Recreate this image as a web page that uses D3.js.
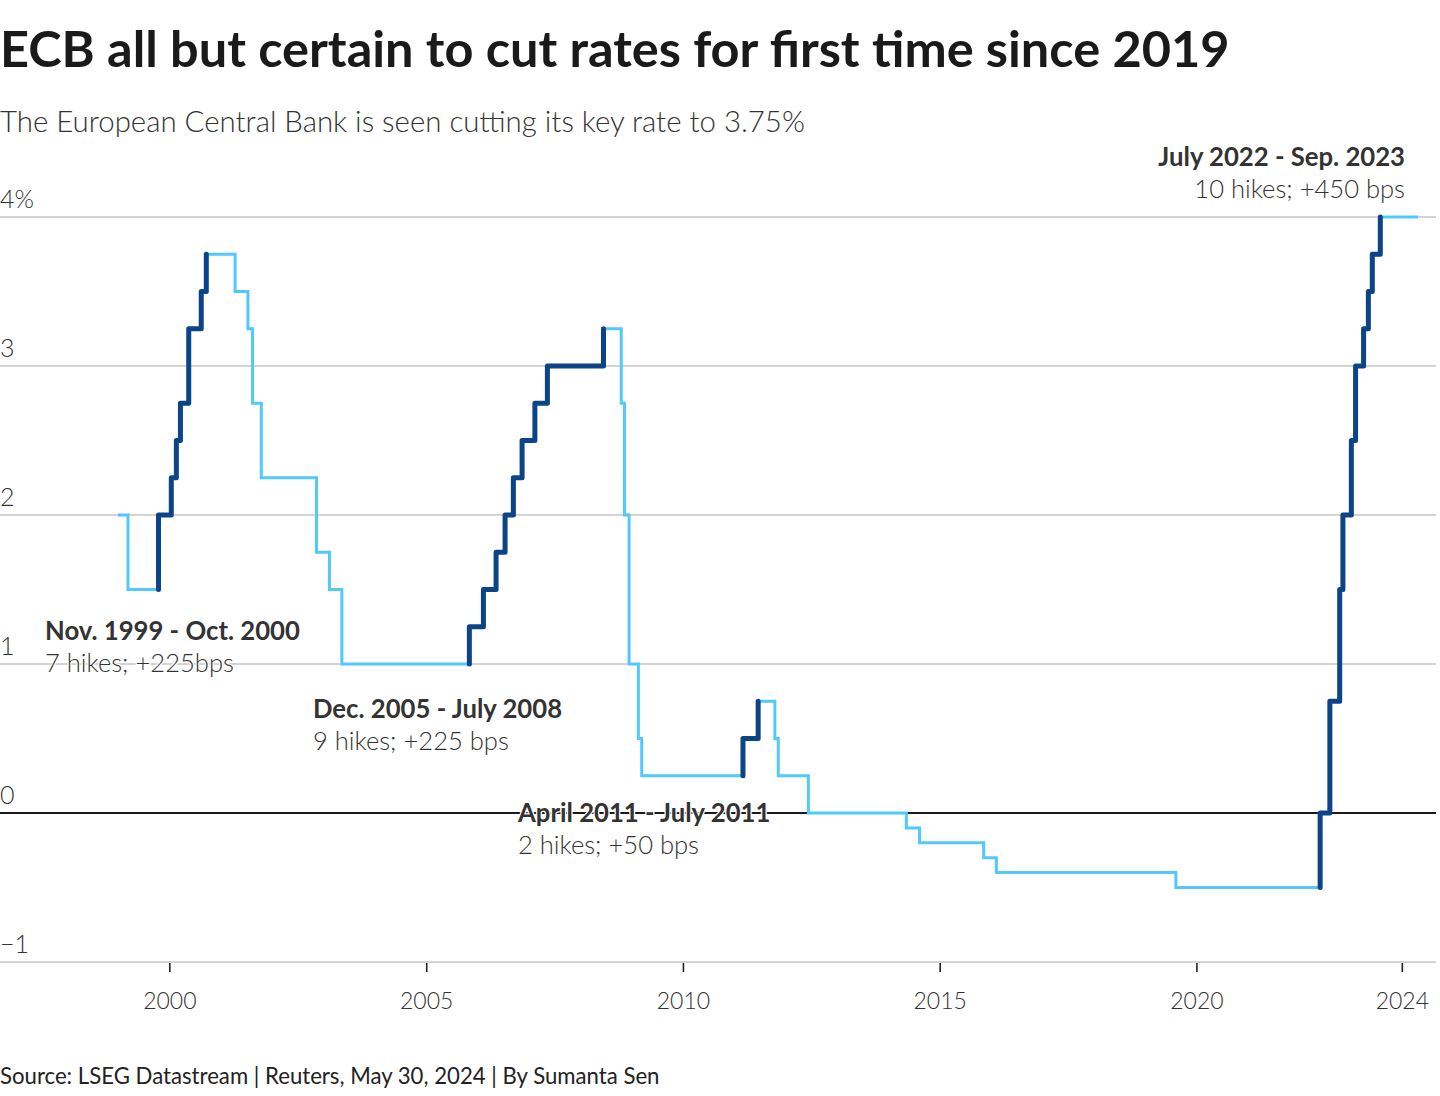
<!DOCTYPE html>
<html>
<head>
<meta charset="utf-8">
<script src="https://cdn.jsdelivr.net/npm/d3@7"></script>
<style>
  body { margin: 0; background: #fff; }
  svg text { font-family: "Lato", "Noto Sans", sans-serif; }
</style>
</head>
<body>
<svg id="chart" width="1440" height="1096"></svg>
<script>
// ECB deposit rate, step changes
const stepDates = [
  "1999-01-01", "1999-03-13", "1999-10-16", "2000-01-15", "2000-02-20", "2000-03-20",
  "2000-05-18", "2000-08-15", "2000-09-20", "2001-04-13", "2001-07-13", "2001-08-15",
  "2001-10-16", "2002-11-13", "2003-02-13", "2003-05-12", "2005-11-04", "2006-02-12",
  "2006-05-13", "2006-07-16", "2006-09-13", "2006-11-14", "2007-02-13", "2007-05-13",
  "2008-06-15", "2008-10-19", "2008-11-11", "2008-12-14", "2009-02-18", "2009-03-14",
  "2011-03-04", "2011-06-20", "2011-10-17", "2011-11-10", "2012-06-11", "2014-05-09",
  "2014-08-11", "2015-11-10", "2016-02-08", "2019-08-08", "2022-05-30", "2022-08-07",
  "2022-10-16", "2022-11-08", "2023-01-07", "2023-02-06", "2023-04-04", "2023-05-08",
  "2023-06-05", "2023-08-01", "2024-04-25"
];
const rateValues = [
  2.00, 1.50, 2.00, 2.25, 2.50, 2.75,
  3.25, 3.50, 3.75, 3.50, 3.25, 2.75,
  2.25, 1.75, 1.50, 1.00, 1.25, 1.50,
  1.75, 2.00, 2.25, 2.50, 2.75, 3.00,
  3.25, 2.75, 2.00, 1.00, 0.50, 0.25,
  0.50, 0.75, 0.50, 0.25, 0.00, -0.10,
  -0.20, -0.30, -0.40, -0.50, 0.00, 0.75,
  1.50, 2.00, 2.50, 3.00, 3.25, 3.50,
  3.75, 4.00, 4.00
];

// hiking cycles: first and last hike
const hikeStarts = ["1999-10-16", "2005-11-04", "2011-03-04", "2022-05-30"];
const hikeEnds   = ["2000-09-20", "2008-06-15", "2011-06-20", "2023-08-01"];

const hikeTitles = ["Nov. 1999 - Oct. 2000", "Dec. 2005 - July 2008", "April 2011 - July 2011", "July 2022 - Sep. 2023"];
const hikeNotes  = ["7 hikes; +225bps", "9 hikes; +225 bps", "2 hikes; +50 bps", "10 hikes; +450 bps"];

const yTicks = [-1, 0, 1, 2, 3, 4];
const xTickYears = [2000, 2005, 2010, 2015, 2020, 2024];

const parse = d3.timeParse("%Y-%m-%d");
const data = stepDates.map((d, i) => ({ date: parse(d), value: rateValues[i] }));

const svg = d3.select("#chart");
const plotLeft = 0, plotRight = 1436;

const x = d3.scaleTime()
  .domain(d3.extent(data, d => d.date))
  .range([118, 1418]);
const y = d3.scaleLinear()
  .domain([-1, 4])
  .range([962, 217]);

// fit a text element to a pixel width by scaling its font size
function fit(sel, w) {
  const fs = parseFloat(sel.style("font-size"));
  const len = sel.node().getComputedTextLength();
  const nfs = fs * w / len;
  sel.style("font-size", nfs + "px");
  return nfs;
}

// titles
const title = svg.append("text")
  .attr("x", 0).attr("y", 67)
  .style("font-size", "44px").style("font-weight", 700)
  .attr("fill", "#1a1a1a")
  .text("ECB all but certain to cut rates for first time since 2019");
fit(title, 1230);

const sub = svg.append("text")
  .attr("x", 0).attr("y", 132)
  .style("font-size", "28px").style("font-weight", 300)
  .attr("fill", "#333")
  .text("The European Central Bank is seen cutting its key rate to 3.75%");
fit(sub, 805);

const src = svg.append("text")
  .attr("x", 0).attr("y", 1084)
  .style("font-size", "21px").style("font-weight", 400)
  .attr("fill", "#222")
  .text("Source: LSEG Datastream | Reuters, May 30, 2024 | By Sumanta Sen");
fit(src, 660);

// gridlines
const grid = svg.append("g");
grid.selectAll("line")
  .data(yTicks)
  .join("line")
  .attr("x1", plotLeft).attr("x2", plotRight)
  .attr("y1", d => y(d)).attr("y2", d => y(d))
  .attr("stroke", d => d === 0 ? "#1a1a1a" : "#c4c4c4")
  .attr("stroke-width", d => d === 0 ? 1.8 : 1.5);

grid.selectAll("text")
  .data(yTicks)
  .join("text")
  .attr("x", 0)
  .attr("y", d => y(d) - 9)
  .style("font-size", "25px").style("font-weight", 300)
  .attr("fill", "#333")
  .text(d => d === 4 ? "4%" : (d < 0 ? "\u2212" + Math.abs(d) : d));

// x axis
const xAxis = d3.axisBottom(x)
  .tickValues(xTickYears.map(yr => new Date(yr, 0, 1)))
  .tickFormat(d3.timeFormat("%Y"))
  .tickSize(9)
  .tickPadding(21);

const ax = svg.append("g")
  .attr("transform", `translate(0, ${y(-1) + 1})`)
  .call(xAxis);
ax.select(".domain").remove();
ax.selectAll(".tick line").attr("stroke", "#222").attr("stroke-width", 1.6);
ax.selectAll(".tick text")
  .style("font-family", "Lato, sans-serif")
  .style("font-size", "23px").style("font-weight", 300)
  .attr("fill", "#333");

// lines
const line = d3.line()
  .x(d => x(d.date))
  .y(d => y(d.value))
  .curve(d3.curveStepAfter);

svg.append("path")
  .datum(data)
  .attr("d", line)
  .attr("fill", "none")
  .attr("stroke", "#52c8fc")
  .attr("stroke-width", 3);

const cycles = hikeStarts.map((s, k) => {
  const s0 = parse(s), e0 = parse(hikeEnds[k]);
  const i0 = data.findIndex(d => +d.date === +s0);
  const pts = data.filter(d => d.date >= s0 && d.date <= e0);
  return [{ date: s0, value: data[i0 - 1].value }].concat(pts);
});

svg.append("g")
  .selectAll("path")
  .data(cycles)
  .join("path")
  .attr("d", line)
  .attr("fill", "none")
  .attr("stroke", "#0b4587")
  .attr("stroke-width", 5)
  .attr("stroke-linecap", "round")
  .attr("stroke-linejoin", "round");

// annotations
const annX = [45, 313, 518, 1405];
const annY = [640, 718, 822, 166];
const annAnchor = ["start", "start", "start", "end"];

const ann = svg.append("g");
const boldSize = fit(ann.append("text").style("font-size", "24px").style("font-weight", 700)
  .text(hikeTitles[0]), 255);
const lightSize = fit(ann.append("text").style("font-size", "24px").style("font-weight", 300)
  .text(hikeNotes[0]), 189);
ann.selectAll("text").remove();

hikeTitles.forEach((t, k) => {
  ann.append("text")
    .attr("x", annX[k]).attr("y", annY[k])
    .attr("text-anchor", annAnchor[k])
    .style("font-size", boldSize + "px").style("font-weight", 700)
    .attr("fill", "#333")
    .attr("stroke", "#fff").attr("stroke-width", 2.5).attr("paint-order", "stroke")
    .text(t);
  ann.append("text")
    .attr("x", annX[k]).attr("y", annY[k] + 32)
    .attr("text-anchor", annAnchor[k])
    .style("font-size", lightSize + "px").style("font-weight", 300)
    .attr("fill", "#333")
    .attr("stroke", "#fff").attr("stroke-width", 2.5).attr("paint-order", "stroke")
    .text(hikeNotes[k]);
});
</script>
</body>
</html>
